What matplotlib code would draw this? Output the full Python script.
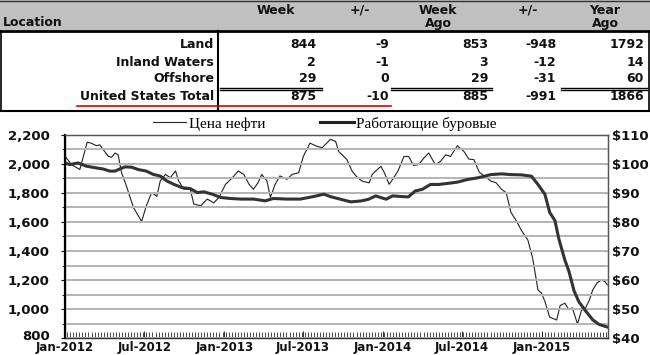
import matplotlib
matplotlib.use("Agg")
import matplotlib.pyplot as plt
import matplotlib.dates as mdates
import matplotlib.ticker as ticker
import matplotlib.transforms as mtrans
from matplotlib.lines import Line2D
from matplotlib.patches import Rectangle
import pandas as pd

# ── Table data ────────────────────────────────────────────────────────────────
locations = ["Land", "Inland Waters", "Offshore", "United States Total"]
col_heads = ["Week", "+/-", "Week\nAgo", "+/-", "Year\nAgo"]
week      = [844, 2, 29, 875]
week_chg  = [-9, -1, 0, -10]
week_ago  = [853, 3, 29, 885]
year_chg  = [-948, -12, -31, -991]
year_ago  = [1792, 14, 60, 1866]

# ── Chart data ────────────────────────────────────────────────────────────────
oil_dates = [
    "2012-01-01", "2012-01-16", "2012-02-04", "2012-02-21", "2012-03-01", "2012-03-13",
    "2012-03-21", "2012-04-09", "2012-04-17", "2012-04-25", "2012-05-02", "2012-05-10",
    "2012-05-21", "2012-06-06", "2012-06-25", "2012-07-06", "2012-07-18", "2012-07-30",
    "2012-08-07", "2012-08-19", "2012-08-30", "2012-09-11", "2012-09-18", "2012-09-30",
    "2012-10-15", "2012-10-23", "2012-11-08", "2012-11-23", "2012-12-08", "2012-12-20",
    "2013-01-04", "2013-01-20", "2013-02-02", "2013-02-15", "2013-02-27", "2013-03-09",
    "2013-03-20", "2013-03-28", "2013-04-09", "2013-04-17", "2013-04-28", "2013-05-09",
    "2013-05-25", "2013-06-06", "2013-06-21", "2013-07-02", "2013-07-17", "2013-08-02",
    "2013-08-14", "2013-09-02", "2013-09-14", "2013-09-21", "2013-09-29", "2013-10-10",
    "2013-10-22", "2013-11-03", "2013-11-14", "2013-11-30", "2013-12-07", "2013-12-19",
    "2013-12-27", "2014-01-04", "2014-01-15", "2014-01-23", "2014-02-04", "2014-02-18",
    "2014-03-01", "2014-03-12", "2014-03-24", "2014-04-05", "2014-04-16", "2014-05-01",
    "2014-05-13", "2014-05-25", "2014-06-05", "2014-06-21", "2014-07-06", "2014-07-17",
    "2014-07-29", "2014-08-10", "2014-08-22", "2014-09-06", "2014-09-18", "2014-09-30",
    "2014-10-11", "2014-10-22", "2014-11-03", "2014-11-15", "2014-11-30", "2014-12-11",
    "2014-12-23", "2014-12-31", "2015-01-08", "2015-01-19", "2015-02-04", "2015-02-12",
    "2015-02-23", "2015-03-04", "2015-03-12", "2015-03-24", "2015-04-02", "2015-04-10",
    "2015-04-20", "2015-04-28", "2015-05-08", "2015-05-18", "2015-05-26", "2015-06-01",
]
oil_price = [
    102.7, 99.8, 98.1, 107.5, 107.2, 106.3,
    106.6, 102.7, 102.3, 103.8, 103.2, 97.0,
    92.5, 85.1, 80.2, 85.6, 90.2, 88.8,
    94.2, 96.4, 95.3, 97.6, 94.2, 91.3,
    91.3, 86.2, 85.6, 87.9, 86.6, 88.5,
    93.0, 95.3, 97.6, 96.4, 93.0, 91.3,
    93.6, 96.4, 94.2, 88.5, 93.0, 95.9,
    94.7, 96.4, 97.0, 102.7, 107.2, 106.1,
    105.6, 108.5, 107.8, 104.3, 103.2, 101.5,
    97.5, 95.3, 94.1, 93.5, 96.4, 98.1,
    99.2, 97.0, 93.0, 94.7, 97.5, 102.6,
    102.6, 99.5, 99.8, 102.1, 103.8, 99.8,
    100.9, 103.2, 102.6, 106.3, 104.3, 101.7,
    101.5, 97.2, 95.8, 94.1, 93.5, 91.3,
    90.1, 83.3, 80.5, 77.1, 73.7, 67.4,
    56.6, 55.5, 52.6, 47.2, 46.2, 51.2,
    52.0, 49.8, 50.4, 44.8, 49.6, 50.0,
    53.0, 56.6, 59.0, 60.0, 59.4, 58.3,
]

rig_dates = [
    "2012-01-01", "2012-01-12", "2012-01-31", "2012-02-19", "2012-03-13", "2012-03-28",
    "2012-04-13", "2012-04-25", "2012-05-06", "2012-05-18", "2012-06-02", "2012-06-17",
    "2012-07-06", "2012-07-22", "2012-08-07", "2012-08-22", "2012-09-07", "2012-09-26",
    "2012-10-15", "2012-10-31", "2012-11-15", "2012-12-04", "2012-12-24", "2013-01-16",
    "2013-02-08", "2013-03-09", "2013-04-05", "2013-04-24", "2013-05-25", "2013-06-25",
    "2013-07-26", "2013-08-18", "2013-09-02", "2013-09-25", "2013-10-19", "2013-11-11",
    "2013-11-29", "2013-12-15", "2014-01-08", "2014-01-23", "2014-02-15", "2014-02-28",
    "2014-03-16", "2014-04-01", "2014-04-20", "2014-05-09", "2014-05-29", "2014-06-21",
    "2014-07-14", "2014-08-07", "2014-08-22", "2014-09-06", "2014-09-30", "2014-10-22",
    "2014-11-15", "2014-12-08", "2014-12-23", "2015-01-08", "2015-01-19", "2015-01-31",
    "2015-02-09", "2015-02-23", "2015-03-04", "2015-03-16", "2015-03-27", "2015-04-12",
    "2015-04-28", "2015-05-13", "2015-06-01",
]
rig_count = [
    2007, 1996, 2007, 1985, 1973, 1966,
    1951, 1951, 1966, 1980, 1978, 1962,
    1951, 1928, 1917, 1883, 1860, 1837,
    1830, 1803, 1808, 1792, 1769, 1762,
    1758, 1758, 1746, 1762, 1758, 1758,
    1776, 1792, 1775, 1757, 1739, 1745,
    1757, 1780, 1757, 1780, 1775, 1773,
    1814, 1825, 1859, 1859, 1866, 1875,
    1893, 1905, 1916, 1927, 1932, 1927,
    1925, 1916, 1859, 1791, 1666, 1610,
    1484, 1336, 1262, 1125, 1050, 985,
    925, 893, 875,
]

legend_labels = ["Цена нефти", "Работающие буровые"]

# ── Style ─────────────────────────────────────────────────────────────────────
BOLD = dict(family="DejaVu Sans", weight="bold", color="#111111")
GRID = "#b4b4b4"

fig = plt.figure(figsize=(6.5, 3.55), dpi=100, facecolor="white")

# ── Table (pixel coordinates on a full-figure axes) ──────────────────────────
tab = fig.add_axes([0, 0, 1, 1])
tab.set_xlim(0, 650)
tab.set_ylim(355, 0)
tab.axis("off")

tab.add_patch(Rectangle((0, 0), 650, 30, facecolor="#c0c0c0", edgecolor="none"))
tab.plot([0, 650], [1, 1], color="#333333", lw=1.0)
tab.plot([0, 650], [30.5, 30.5], color="black", lw=2.0)
tab.plot([1, 1], [31, 111], color="black", lw=1.2)
tab.plot([648.5, 648.5], [31, 111], color="black", lw=1.2)
tab.plot([0.5, 649], [111, 111], color="black", lw=1.5)
tab.plot([218, 218], [31, 111], color="black", lw=1.5)

tab.text(3, 22, "Location", ha="left", va="center", fontsize=9, **BOLD)
head_x = [276, 360, 438, 528, 605]
for hx, h in zip(head_x, col_heads):
    tab.text(hx, 3.5, h, ha="center", va="top", fontsize=9, linespacing=1.05, **BOLD)

row_y = [45, 62, 79, 97]
col_right = [316, 389, 488, 556, 644]
columns = [week, week_chg, week_ago, year_chg, year_ago]
for ry, name in zip(row_y, locations):
    tab.text(214, ry, name, ha="right", va="center", fontsize=9, **BOLD)
for cx, col in zip(col_right, columns):
    for ry, val in zip(row_y, col):
        tab.text(cx, ry, f"{val}", ha="right", va="center", fontsize=9, **BOLD)

# double rule above the totals
for x0, x1 in [(220, 322), (391, 492), (561, 647)]:
    tab.plot([x0, x1], [87.5, 87.5], color="black", lw=1.0)
    tab.plot([x0, x1], [90.0, 90.0], color="black", lw=1.0)
tab.plot([77, 391], [105.5, 105.5], color="#e00000", lw=1.2)

# ── Chart ────────────────────────────────────────────────────────────────────
ax = fig.add_axes([65 / 650, 17 / 355, 543 / 650, 203 / 355])
ax2 = ax.twinx()
ax.set_zorder(ax2.get_zorder() + 1)
ax.patch.set_visible(False)

rig_x = pd.to_datetime(rig_dates)
oil_x = pd.to_datetime(oil_dates)

ax2.plot(oil_x, oil_price, color="#222222", lw=0.8)
ax.plot(rig_x, rig_count, color="#333333", lw=2.2, solid_capstyle="round")

ax.set_ylim(800, 2200)
ax2.set_ylim(40, 110)
ax.set_xlim(pd.Timestamp("2012-01-01"), pd.Timestamp("2015-06-02"))

ax.yaxis.set_major_locator(ticker.MultipleLocator(200))
ax.yaxis.set_minor_locator(ticker.MultipleLocator(100))
ax.yaxis.set_major_formatter(ticker.FuncFormatter(lambda v, p: f"{v:,.0f}"))
ax2.yaxis.set_major_locator(ticker.MultipleLocator(10))
ax2.yaxis.set_minor_locator(ticker.MultipleLocator(5))
ax2.yaxis.set_major_formatter(ticker.FuncFormatter(lambda v, p: f"${v:.0f}"))

ax.grid(which="both", axis="y", color=GRID, lw=1.4)
ax.set_axisbelow(True)
ax2.grid(False)

ax.xaxis.set_major_locator(mdates.MonthLocator(bymonth=[1, 7]))
ax.xaxis.set_major_formatter(mdates.DateFormatter("%b-%Y"))
ax.xaxis.set_minor_locator(mdates.WeekdayLocator(byweekday=mdates.FR))

ax.tick_params(axis="y", which="major", direction="out", length=3, width=0.8,
               pad=8, labelsize=9.5, colors="#111111")
ax.tick_params(axis="y", which="minor", direction="out", length=2, width=0.6)
ax.tick_params(axis="x", which="major", direction="in", length=5, width=0.6,
               pad=1.8, labelsize=8.5, colors="#111111")
ax.tick_params(axis="x", which="minor", direction="in", length=4, width=0.5)
ax2.tick_params(axis="y", which="major", direction="in", length=3, width=0.8,
                pad=3, labelsize=9.5, colors="#111111")
ax2.tick_params(axis="y", which="minor", direction="in", length=2, width=0.6)

for lbl in ax.get_xticklabels() + ax.get_yticklabels() + ax2.get_yticklabels():
    lbl.set_fontweight("bold")
    lbl.set_family("DejaVu Sans")
for lbl in ax.get_yticklabels() + ax2.get_yticklabels():
    lbl.set_verticalalignment("center_baseline")

for a in (ax, ax2):
    for side, sp in a.spines.items():
        sp.set_color("#555555")
        sp.set_linewidth(0.9)
ax.spines["left"].set_color("black")
ax.spines["left"].set_linewidth(1.6)
ax.spines["bottom"].set_color("#333333")

handles = [Line2D([], [], color="#222222", lw=0.8),
           Line2D([], [], color="#222222", lw=2.2)]
ax.legend(handles, legend_labels, loc="center", bbox_to_anchor=(0.478, 1.055),
          ncol=2, frameon=False, handlelength=2.2, handletextpad=0.15,
          columnspacing=3.6, borderaxespad=0,
          prop=dict(family="Liberation Serif", size=11))

# lift the bottom "800" label a touch so it clears "Jan-2012"
fig.canvas.draw()
lift = mtrans.ScaledTranslation(0, 2.5 / 72, fig.dpi_scale_trans)
for tk in ax.yaxis.get_major_ticks():
    if tk.label1.get_text() == "800":
        tk.label1.set_transform(tk.label1.get_transform() + lift)

fig.savefig("out.png", dpi=100, facecolor="white")
